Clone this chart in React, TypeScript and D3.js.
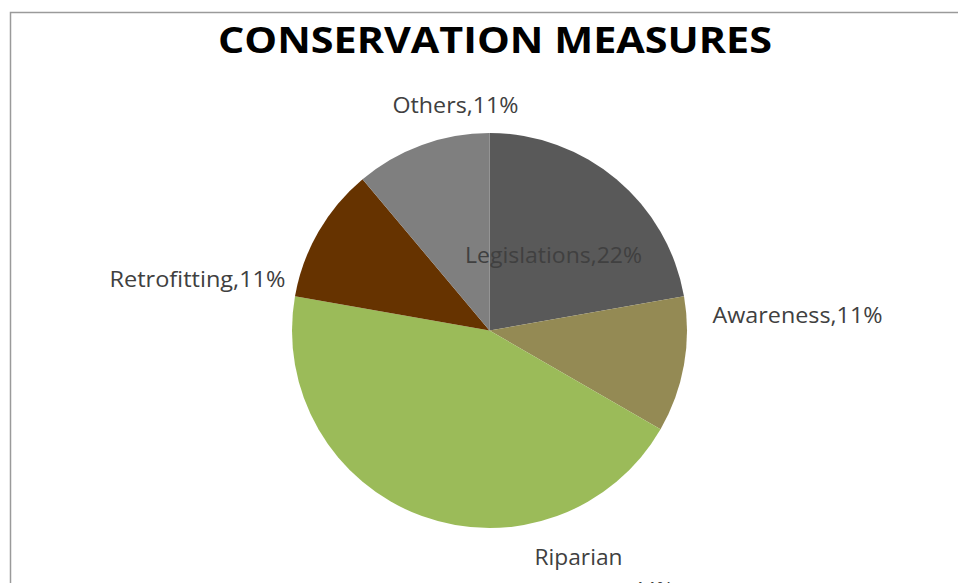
import React from "react";
import * as d3 from "d3";

const categories = ["Legislations", "Awareness", "Riparian", "Retrofitting", "Others"];
const values = [2, 1, 4, 1, 1];
const percentLabels = ["22%", "11%", "44%", "11%", "11%"];
const colors = ["#595959", "#948A54", "#9BBB59", "#663300", "#7F7F7F"];

const W = 958;
const H = 583;
const cx = 489.5;
const cy = 330.5;
const R = 197.5;

// label layout: [anchor x, baseline y, width]
const labelPos: [number, number, number][] = [
  [553.5, 263, 177],
  [797.5, 323, 170],
  [578.5, 565, 88],
  [197.5, 287, 176],
  [455.5, 113, 126],
];

export default function App() {
  const data = categories.map((c, i) => ({ c, v: values[i], p: percentLabels[i], color: colors[i] }));
  const pie = d3.pie<any>().value((d) => d.v).sort(null).startAngle(0).endAngle(2 * Math.PI);
  const arcs = pie(data);
  const arc = d3.arc<any>().innerRadius(0).outerRadius(R);
  const font = "Open Sans, 'DejaVu Sans', sans-serif";
  return (
    <div style={{ position: "fixed", left: 0, top: 0, width: W, height: H, background: "#fff" }}>
      <svg width={W} height={H} style={{ display: "block" }}>
        <rect x={10.5} y={12.5} width={W + 20} height={H + 20} fill="#fff" stroke="#9a9a9a" strokeWidth={1.5} />
        <text
          x={495}
          y={53}
          textAnchor="middle"
          fontFamily={font}
          fontWeight="bold"
          fontSize={35}
          fill="#000"
          textLength={554}
          lengthAdjust="spacingAndGlyphs"
        >
          CONSERVATION MEASURES
        </text>
        <g transform={`translate(${cx},${cy})`}>
          {arcs.map((a, i) => (
            <path key={i} d={arc(a) as string} fill={a.data.color} />
          ))}
        </g>
        {arcs.map((a, i) => {
          const [x, y, w] = labelPos[i];
          if (a.data.c === "Riparian") {
            return (
              <g key={i} fontFamily={font} fontSize={21} fill="#404040">
                <text x={x} y={y} textAnchor="middle" textLength={w} lengthAdjust="spacingAndGlyphs">
                  {a.data.c}
                </text>
                <text x={650} y={y + 33} textAnchor="middle">
                  {"," + a.data.p}
                </text>
              </g>
            );
          }
          return (
            <text
              key={i}
              x={x}
              y={y}
              textAnchor="middle"
              fontFamily={font}
              fontSize={21}
              fill="#404040"
              textLength={w}
              lengthAdjust="spacingAndGlyphs"
            >
              {a.data.c + "," + a.data.p}
            </text>
          );
        })}
      </svg>
    </div>
  );
}
